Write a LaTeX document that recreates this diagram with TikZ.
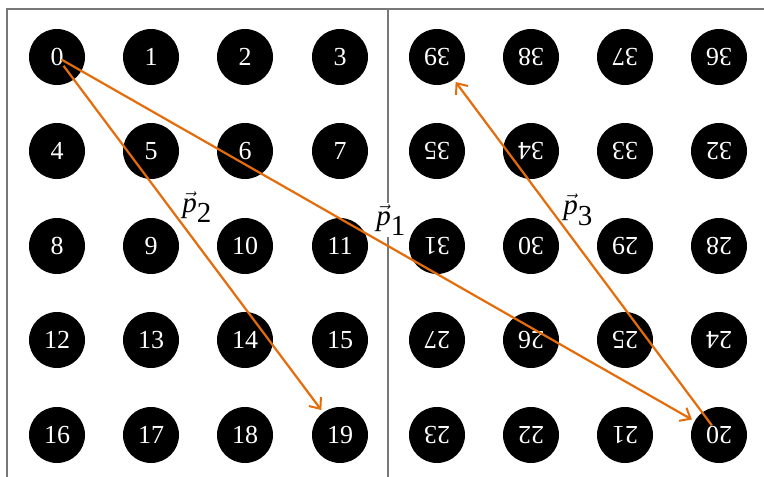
\documentclass[tikz,border=0pt]{standalone}
\usepackage{fontspec}
\setmainfont{Liberation Serif}
\usetikzlibrary{arrows.meta}
\definecolor{frame}{RGB}{120,120,120}
\definecolor{arr}{RGB}{228,108,10}
\tikzset{
  dot/.style={circle,fill=black,minimum size=56pt,inner sep=0pt,text=white,font=\fontsize{26}{26}\selectfont},
  flip/.style={dot,rotate=180},
  framed/.style={draw=frame,line width=1.1pt},
  vec/.style={draw=arr,line width=2.2pt,-{Straight Barb[length=9pt,width=15pt,line width=2pt]},shorten >=3pt},
  lbl/.style={font=\fontsize{29}{29}\selectfont,inner sep=1pt}
}
\newcommand{\pv}[1]{$\vec{\textit{p}}_{\textrm{#1}}$}
\begin{document}
\begin{tikzpicture}[x=1pt,y=-1pt]
\useasboundingbox (0,0) rectangle (764,477);
% frame lines
\coordinate (tl) at (7,9);
\coordinate (tr) at (764,9);
\coordinate (bl) at (7,477);
\coordinate (mt) at (388,9);
\coordinate (mb) at (388,477);
\draw[framed] (bl) -- (tl) -- (tr);
\draw[framed] (mt) -- (mb);
% left grid
\foreach \r/\y in {0/57,1/151,2/246,3/340,4/435}{
  \foreach \c/\x in {0/57,1/151,2/245,3/340}{
    \pgfmathtruncatemacro{\n}{4*\r+\c}
    \node[dot] (n\n) at (\x,\y) {\n};
  }
}
% right grid (rotated)
\foreach \r/\y in {0/57,1/151,2/246,3/340,4/435}{
  \foreach \c/\x in {0/437,1/531,2/625,3/719}{
    \pgfmathtruncatemacro{\n}{39-4*\r-\c}
    \node[flip] (n\n) at (\x,\y) {\n};
  }
}
% vectors
\draw[vec,shorten <=5pt] (n0.center) -- (n20);
\draw[vec,shorten <=11pt] (n0.center) -- (n19);
\draw[vec,shorten <=12pt] (n20.center) -- (n39);
% labels
\node[lbl] (l2) at (197,207) {\pv{2}};
\node[lbl,fill=white] (l1) at (391,220) {\pv{1}};
\node[lbl] (l3) at (578,210) {\pv{3}};
\end{tikzpicture}
\end{document}
